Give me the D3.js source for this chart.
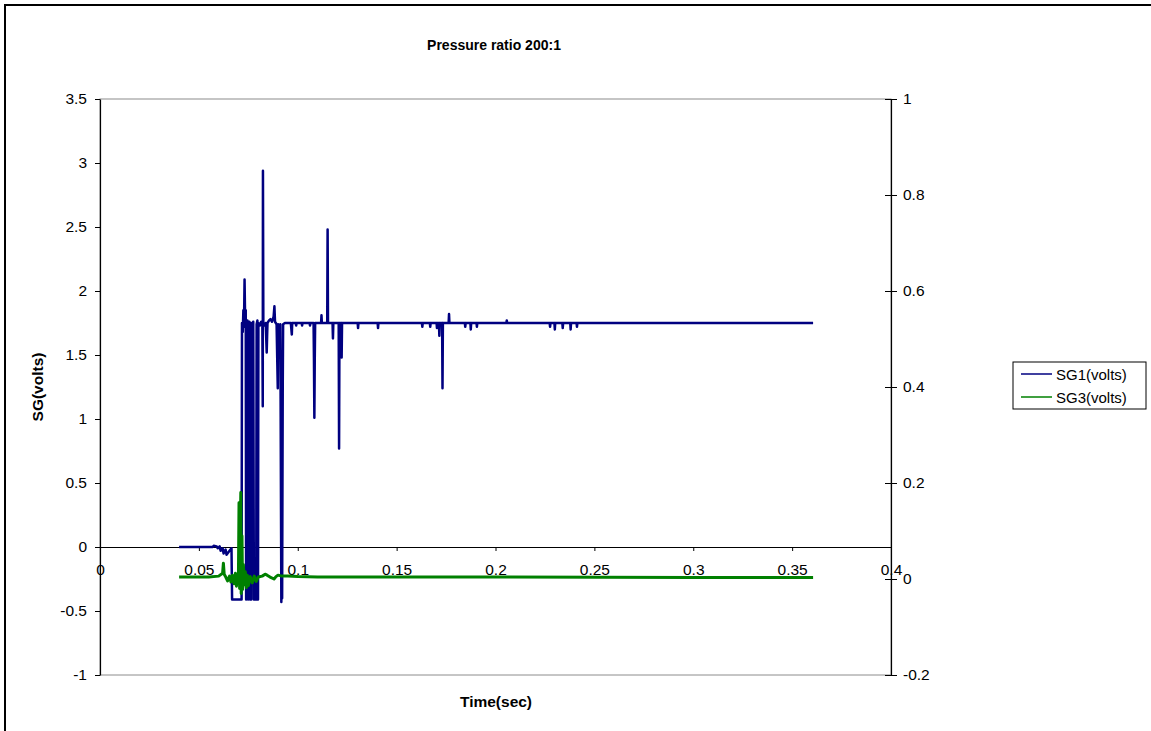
<!DOCTYPE html>
<html>
<head>
<meta charset="utf-8">
<script src="https://cdn.jsdelivr.net/npm/d3@7"></script>
<style>
  html, body { margin: 0; padding: 0; background: #fff; }
  svg { display: block; font-family: "Liberation Sans", Arial, sans-serif; }
</style>
</head>
<body>
<svg id="chart" width="1151" height="731"></svg>
<script>
// ---------- DATA ----------
const title = "Pressure ratio 200:1";
const xLabel = "Time(sec)";
const yLabel = "SG(volts)";
const seriesNames = ["SG1(volts)", "SG3(volts)"];

const xTicks = [0, 0.05, 0.1, 0.15, 0.2, 0.25, 0.3, 0.35, 0.4];
const xTickLabels = ["0", "0.05", "0.1", "0.15", "0.2", "0.25", "0.3", "0.35", "0.4"];
const yLeftTicks = [-1, -0.5, 0, 0.5, 1, 1.5, 2, 2.5, 3, 3.5];
const yLeftTickLabels = ["-1", "-0.5", "0", "0.5", "1", "1.5", "2", "2.5", "3", "3.5"];
const yRightTicks = [-0.2, 0, 0.2, 0.4, 0.6, 0.8, 1];
const yRightTickLabels = ["-0.2", "0", "0.2", "0.4", "0.6", "0.8", "1"];

// SG1 (left axis) : [time, volts]
const sg1 = [
  [0.040,0],[0.057,0],[0.0575,0.01],[0.059,0.005],[0.0595,-0.01],[0.0605,0.005],[0.061,-0.03],
  [0.062,-0.01],[0.0625,-0.05],[0.0635,-0.02],[0.064,-0.06],[0.0655,-0.03],[0.0665,-0.01],
  [0.0668,-0.41],[0.0716,-0.41],[0.0718,1.75],[0.0722,1.68],[0.0725,1.85],[0.0728,1.72],
  [0.0731,2.09],[0.0734,1.76],[0.0737,1.85],[0.0739,-0.41],[0.0742,1.74],[0.0746,1.77],
  [0.0749,-0.41],[0.0752,1.72],[0.0756,1.76],[0.0759,-0.41],[0.0765,-0.41],[0.0767,1.75],
  [0.0772,1.72],[0.0775,1.76],[0.0778,-0.41],[0.0790,-0.41],[0.0792,1.74],[0.0796,1.77],
  [0.0799,-0.41],[0.0801,1.75],[0.0808,1.73],[0.0815,1.76],[0.0821,1.74],[0.0823,1.10],
  [0.0824,2.94],[0.0826,1.75],[0.0832,1.73],[0.0838,1.75],[0.0843,1.52],[0.0845,1.64],
  [0.0847,1.75],[0.0855,1.77],[0.0862,1.78],[0.0870,1.76],[0.0878,1.80],[0.0882,1.88],
  [0.0885,1.76],[0.0893,1.74],[0.0899,1.24],[0.0901,1.74],[0.0908,1.70],[0.0912,1.74],
  [0.0917,-0.43],[0.0919,1.15],[0.0921,-0.40],[0.0924,1.20],[0.0926,1.74],[0.0935,1.75],
  [0.0950,1.75],[0.0965,1.75],[0.0970,1.66],[0.0972,1.75],[0.0990,1.75],[0.0992,1.73],
  [0.0994,1.75],[0.1020,1.75],[0.1022,1.73],[0.1024,1.75],[0.1060,1.75],[0.1062,1.73],
  [0.1064,1.75],[0.1080,1.75],[0.1082,1.46],[0.1084,1.01],[0.1086,1.46],[0.1088,1.75],
  [0.1118,1.75],[0.1120,1.81],[0.1122,1.75],[0.1149,1.75],[0.1151,2.48],[0.1153,1.75],
  [0.1176,1.75],[0.1178,1.63],[0.1180,1.75],[0.1207,1.75],[0.1209,0.77],[0.1211,1.75],
  [0.1220,1.75],[0.1222,1.48],[0.1224,1.75],[0.1303,1.75],[0.1305,1.71],[0.1307,1.75],
  [0.1404,1.75],[0.1406,1.71],[0.1408,1.75],[0.1628,1.75],[0.1630,1.72],[0.1632,1.75],
  [0.1668,1.75],[0.1670,1.72],[0.1672,1.75],[0.1702,1.75],[0.1704,1.71],[0.1706,1.75],
  [0.1714,1.75],[0.1716,1.65],[0.1718,1.75],[0.1730,1.75],[0.1732,1.24],[0.1734,1.75],
  [0.1763,1.75],[0.1765,1.82],[0.1767,1.75],[0.1845,1.75],[0.1847,1.72],[0.1849,1.75],
  [0.1873,1.75],[0.1875,1.70],[0.1877,1.75],[0.1904,1.75],[0.1906,1.72],[0.1908,1.75],
  [0.2055,1.75],[0.2057,1.77],[0.2059,1.75],[0.2274,1.75],[0.2276,1.72],[0.2278,1.75],
  [0.2298,1.75],[0.2300,1.70],[0.2302,1.75],[0.2338,1.75],[0.2340,1.71],[0.2342,1.75],
  [0.2378,1.75],[0.2380,1.70],[0.2382,1.75],[0.2410,1.75],[0.2412,1.72],[0.2414,1.75],
  [0.2600,1.75],[0.3000,1.75],[0.3606,1.75]
];

// SG3 (right axis) : [time, volts]
const sg3 = [
  [0.040,0.004],[0.055,0.004],[0.060,0.006],[0.0620,0.012],[0.0624,0.033],[0.0628,0.010],
  [0.0636,0.004],[0.0645,-0.004],[0.0655,0.006],[0.0662,-0.006],[0.0670,0.008],[0.0678,-0.010],
  [0.0685,0.012],[0.0690,-0.015],[0.0695,0.010],[0.0700,0.004],[0.0703,0.159],[0.0706,-0.020],
  [0.0710,0.120],[0.0712,0.180],[0.0714,-0.030],[0.0718,0.090],[0.0721,-0.022],[0.0725,0.030],
  [0.0730,-0.012],[0.0735,0.015],[0.0740,-0.018],[0.0745,0.008],[0.0750,-0.014],[0.0760,0.005],
  [0.0770,-0.008],[0.0780,0.006],[0.0790,-0.005],[0.0800,0.004],[0.0820,0.006],[0.0835,0.010],
  [0.0845,0.008],[0.0860,0.004],[0.0880,0.000],[0.0890,0.005],[0.0900,0.008],[0.0920,0.006],
  [0.0950,0.006],[0.1000,0.005],[0.1100,0.004],[0.1300,0.004],[0.2000,0.004],[0.3000,0.003],
  [0.3606,0.003]
];

const colors = ["#000080", "#008000"];

// ---------- LAYOUT ----------
const svg = d3.select("#chart");
const plot = { left: 100, top: 99, right: 891, bottom: 675 };

const x = d3.scaleLinear().domain([0, 0.4]).range([plot.left, plot.right]);
const yL = d3.scaleLinear().domain([-1, 3.5]).range([plot.bottom, plot.top]);
const yR = d3.scaleLinear().domain([-0.2, 1]).range([plot.bottom, plot.top]);

const fontFam = "Liberation Sans, Arial, sans-serif";
const tickFont = 15.5;

// outer chart border
svg.append("rect").attr("x", 5).attr("y", 5).attr("width", 1160).attr("height", 740)
  .attr("fill", "none").attr("stroke", "#000").attr("stroke-width", 2);

// plot area border (gray)
svg.append("rect")
  .attr("x", plot.left).attr("y", plot.top)
  .attr("width", plot.right - plot.left).attr("height", plot.bottom - plot.top)
  .attr("fill", "none").attr("stroke", "#8c8c8c").attr("stroke-width", 1);

// clip
svg.append("clipPath").attr("id", "clip").append("rect")
  .attr("x", plot.left).attr("y", plot.top)
  .attr("width", plot.right - plot.left).attr("height", plot.bottom - plot.top);

// X axis at y = 0 (left scale)
const xAxis = d3.axisBottom(x).tickValues(xTicks)
  .tickFormat((d, i) => xTickLabels[i]).tickSize(4).tickSizeOuter(0);
const gx = svg.append("g").attr("transform", `translate(0,${yL(0)})`).call(xAxis);
gx.select(".domain").attr("stroke", "#000").attr("stroke-width", 1);
gx.selectAll(".tick line").attr("stroke", "#000");
gx.selectAll(".tick text").attr("font-size", tickFont).attr("fill", "#000")
  .attr("font-family", fontFam).attr("y", 17).attr("dy", "0.71em")
  .attr("dominant-baseline", "auto");

// Left Y axis
const yAxisL = d3.axisLeft(yL).tickValues(yLeftTicks)
  .tickFormat((d, i) => yLeftTickLabels[i]).tickSize(5).tickSizeOuter(0);
const gyl = svg.append("g").attr("transform", `translate(${plot.left},0)`).call(yAxisL);
gyl.select(".domain").attr("stroke", "#000").attr("stroke-width", 1.2);
gyl.selectAll(".tick line").attr("stroke", "#000");
gyl.selectAll(".tick text").attr("font-size", tickFont).attr("fill", "#000")
  .attr("font-family", fontFam).attr("x", -13);

// Right Y axis (cross ticks)
const yAxisR = d3.axisRight(yR).tickValues(yRightTicks)
  .tickFormat((d, i) => yRightTickLabels[i]).tickSize(6).tickSizeOuter(0);
const gyr = svg.append("g").attr("transform", `translate(${plot.right},0)`).call(yAxisR);
gyr.select(".domain").attr("stroke", "#000").attr("stroke-width", 1.2);
gyr.selectAll(".tick line").attr("stroke", "#000").attr("x1", -6).attr("x2", 6);
gyr.selectAll(".tick text").attr("font-size", tickFont).attr("fill", "#000")
  .attr("font-family", fontFam).attr("x", 12);

// Series (SG3 drawn on top, as in the reference)
const g = svg.append("g").attr("clip-path", "url(#clip)");
const lineL = d3.line().x(d => x(d[0])).y(d => yL(d[1]));
const lineR = d3.line().x(d => x(d[0])).y(d => yR(d[1]));
g.append("path").datum(sg1).attr("d", lineL)
  .attr("fill", "none").attr("stroke", colors[0]).attr("stroke-width", 2.5)
  .attr("stroke-linejoin", "round");
g.append("path").datum(sg3).attr("d", lineR)
  .attr("fill", "none").attr("stroke", colors[1]).attr("stroke-width", 3)
  .attr("stroke-linejoin", "round");

// Title & axis labels
svg.append("text").attr("x", 494).attr("y", 50).attr("text-anchor", "middle")
  .attr("font-size", 14).attr("font-weight", "bold").text(title);
svg.append("text").attr("x", 496).attr("y", 707).attr("text-anchor", "middle")
  .attr("font-size", 15.5).attr("font-weight", "bold").text(xLabel);
svg.append("text").attr("transform", "translate(43,387) rotate(-90)")
  .attr("text-anchor", "middle").attr("font-size", 15.5).attr("font-weight", "bold").text(yLabel);

// Legend
const lg = svg.append("g");
lg.append("rect").attr("x", 1013).attr("y", 362).attr("width", 133).attr("height", 47)
  .attr("fill", "#fff").attr("stroke", "#000").attr("stroke-width", 1);
seriesNames.forEach((name, i) => {
  const yy = 374 + i * 23;
  lg.append("line").attr("x1", 1021).attr("x2", 1052).attr("y1", yy).attr("y2", yy)
    .attr("stroke", colors[i]).attr("stroke-width", 1.5);
  lg.append("text").attr("x", 1056).attr("y", yy + 5.5).attr("font-size", 15).text(name);
});
</script>
</body>
</html>
